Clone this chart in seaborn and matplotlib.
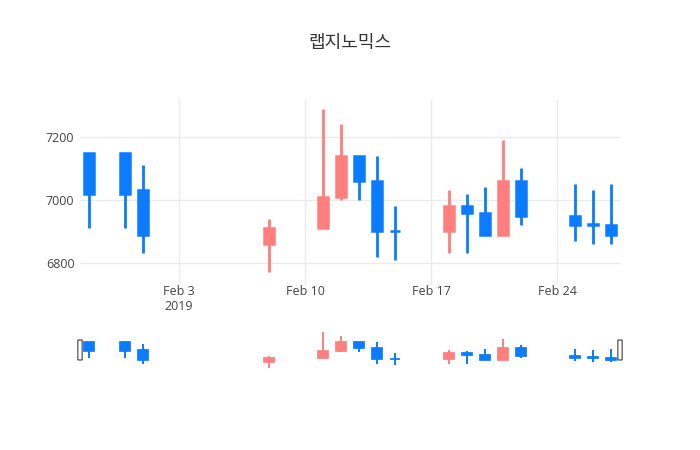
import pandas as pd
import numpy as np
import matplotlib
matplotlib.use("Agg")
import matplotlib.pyplot as plt
import matplotlib.dates as mdates
from matplotlib.patches import FancyBboxPatch
import seaborn as sns

# Daily prices
dates = ["2019-01-29", "2019-01-31", "2019-02-01", "2019-02-08", "2019-02-11",
         "2019-02-12", "2019-02-13", "2019-02-14", "2019-02-15", "2019-02-18",
         "2019-02-19", "2019-02-20", "2019-02-21", "2019-02-22", "2019-02-25",
         "2019-02-26", "2019-02-27"]
open_ = [7150, 7150, 7030, 6860, 6910, 7010, 7140, 7060, 6900, 6900,
         6980, 6960, 6890, 7060, 6950, 6925, 6920]
high = [7150, 7150, 7110, 6940, 7290, 7240, 7140, 7140, 6980, 7030,
        7020, 7040, 7190, 7100, 7050, 7030, 7050]
low = [6910, 6910, 6830, 6770, 6910, 7000, 7000, 6820, 6810, 6830,
       6830, 6890, 6890, 6920, 6870, 6860, 6860]
close = [7020, 7020, 6890, 6910, 7010, 7140, 7060, 6900, 6900, 6980,
         6960, 6890, 7060, 6950, 6920, 6920, 6890]
tick_dates = ["2019-02-03", "2019-02-10", "2019-02-17", "2019-02-24"]
tick_labels = ["Feb 3\n2019", "Feb 10", "Feb 17", "Feb 24"]
title = "랩지노믹스"

df = pd.DataFrame({"date": pd.to_datetime(dates), "open": open_, "high": high,
                   "low": low, "close": close})
df["up"] = df["close"] > df["open"]

UP = "#FF7F7F"
DOWN = "#0B7BFF"

sns.set_theme(style="white")
plt.rcParams["font.family"] = ["Open Sans", "Noto Sans CJK KR", "DejaVu Sans"]

fig = plt.figure(figsize=(7, 4.5), dpi=100)
W, H = 700, 450
ax = fig.add_axes([80 / W, 1 - 285 / H, 540 / W, 185 / H])
sl = fig.add_axes([80 / W, 1 - 370 / H, 540 / W, 40 / H])

x0 = mdates.date2num(pd.Timestamp("2019-01-28 12:00"))
x1 = mdates.date2num(pd.Timestamp("2019-02-27 12:00"))


def draw_candles(a, lw, width):
    xs = mdates.date2num(df["date"])
    colors = [UP if u else DOWN for u in df["up"]]
    a.vlines(xs, df["low"], df["high"], colors=colors, lw=lw, zorder=3)
    bottoms = np.minimum(df["open"], df["close"])
    heights = np.abs(df["close"] - df["open"])
    a.bar(xs, heights, width=width, bottom=bottoms, color=colors,
          linewidth=lw * 0.9, edgecolor=colors, zorder=4)


draw_candles(ax, 2.0, 0.6)
draw_candles(sl, 1.4, 0.6)

ax.set_xlim(x0, x1)
ax.set_ylim(6730, 7317)
ax.set_yticks([6800, 7000, 7200])
ax.set_xticks(mdates.date2num(pd.to_datetime(tick_dates)))
ax.set_xticklabels(tick_labels)
ax.grid(True, color="#EBEBEB", lw=1)
ax.set_axisbelow(True)
ax.tick_params(axis="both", length=0, labelsize=9, colors="#444444")
ax.tick_params(axis="x", pad=0)
ax.tick_params(axis="y", pad=4)
for lab in ax.get_xticklabels():
    lab.set_linespacing(1.15)
sns.despine(ax=ax, left=True, bottom=True)

sl.set_xlim(x0, x1)
sl.set_ylim(6740, 7320)
sl.set_xticks([])
sl.set_yticks([])
sns.despine(ax=sl, left=True, bottom=True)

# range slider handles
for hx in (0.0, 1.0):
    sl.add_patch(FancyBboxPatch((hx - 0.004, 0.25), 0.008, 0.5,
                                boxstyle="round,pad=0,rounding_size=0.003",
                                transform=sl.transAxes, facecolor="white",
                                edgecolor="#555555", lw=0.9, clip_on=False,
                                zorder=6))

fig.text(350 / W, 1 - 43 / H, title, ha="center", va="center", fontsize=13,
         color="#333333", family=["Noto Sans CJK KR", "DejaVu Sans"])

fig.savefig("out.png", dpi=100)
